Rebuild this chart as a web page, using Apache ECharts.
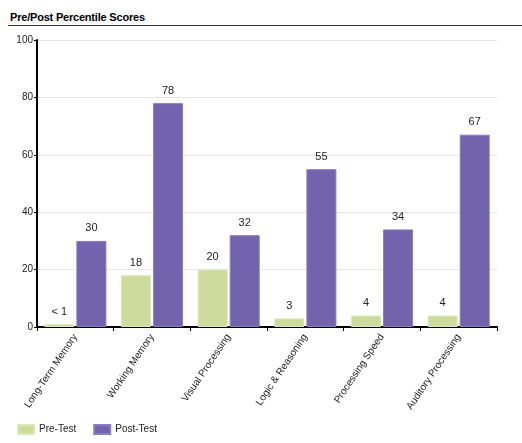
<!DOCTYPE html>
<html>
<head>
<meta charset="utf-8">
<script src="https://cdn.jsdelivr.net/npm/echarts@6/dist/echarts.min.js"></script>
<style>
html,body{margin:0;padding:0;background:#fff;}
#title{position:absolute;left:10px;top:11px;font:bold 11px Arial,"Liberation Sans",sans-serif;letter-spacing:-0.2px;color:#000;}
#rule{position:absolute;left:8px;right:0;top:25px;height:0;border-top:1px solid #333;}
#chart{width:522px;height:443px;}
</style>
</head>
<body>
<div id="title">Pre/Post Percentile Scores</div>
<div id="rule"></div>
<div id="chart"></div>
<script>
//--- data
var categories = ['Long-Term Memory','Working Memory','Visual Processing','Logic & Reasoning','Processing Speed','Auditory Processing'];
var preTest  = [1, 18, 20, 3, 4, 4];
var preLabels = ['< 1','18','20','3','4','4'];
var postTest = [30, 78, 32, 55, 34, 67];
var yTicks = [0, 20, 40, 60, 80, 100];

var font = 'Arial, "Liberation Sans", sans-serif';
var myChart = echarts.init(document.getElementById('chart'));

var option = {
	animation: false,
	textStyle: {fontFamily: font},
	legend: {
		left: 12,
		top: 419,
		itemWidth: 16,
		itemHeight: 9,
		itemGap: 17,
		icon: 'rect',
		textStyle: {fontSize: 10, color: '#222', fontFamily: font},
		data: ['Pre-Test','Post-Test']
	},
	grid: {left: 37, right: 25, top: 40, bottom: 116, containLabel: false},
	xAxis: {
		type: 'category',
		data: categories,
		axisLine: {lineStyle: {color: '#000', width: 2}},
		axisTick: {show: true, length: 4, lineStyle: {color: '#000'}},
		axisLabel: {rotate: 56, fontSize: 10, color: '#222', margin: 8, interval: 0, fontFamily: font}
	},
	yAxis: {
		type: 'value',
		min: 0,
		max: 100,
		interval: 20,
		axisLine: {show: true, lineStyle: {color: '#000', width: 2}},
		axisTick: {show: true, length: 3, lineStyle: {color: '#000'}},
		axisLabel: {fontSize: 10, color: '#222', margin: 4, fontFamily: font,
			formatter: function(v){ return yTicks.indexOf(v) >= 0 ? String(v) : ''; }},
		splitLine: {show: true, lineStyle: {color: '#e6e6e6'}}
	},
	series: [{
		name: 'Pre-Test',
		type: 'bar',
		data: preTest,
		barWidth: 30,
		barGap: '7%',
		itemStyle: {color: '#cddc9c', borderColor: '#dde8b8', borderWidth: 1},
		label: {show: true, position: 'top', distance: 7, fontSize: 11, color: '#222',
			formatter: function(p){ return preLabels[p.dataIndex]; }}
	}, {
		name: 'Post-Test',
		type: 'bar',
		data: postTest,
		barWidth: 30,
		itemStyle: {color: '#7263ad', borderColor: '#8a7dbd', borderWidth: 1},
		label: {show: true, position: 'top', distance: 7, fontSize: 11, color: '#222'}
	}]
};

myChart.setOption(option);
</script>
</body>
</html>
